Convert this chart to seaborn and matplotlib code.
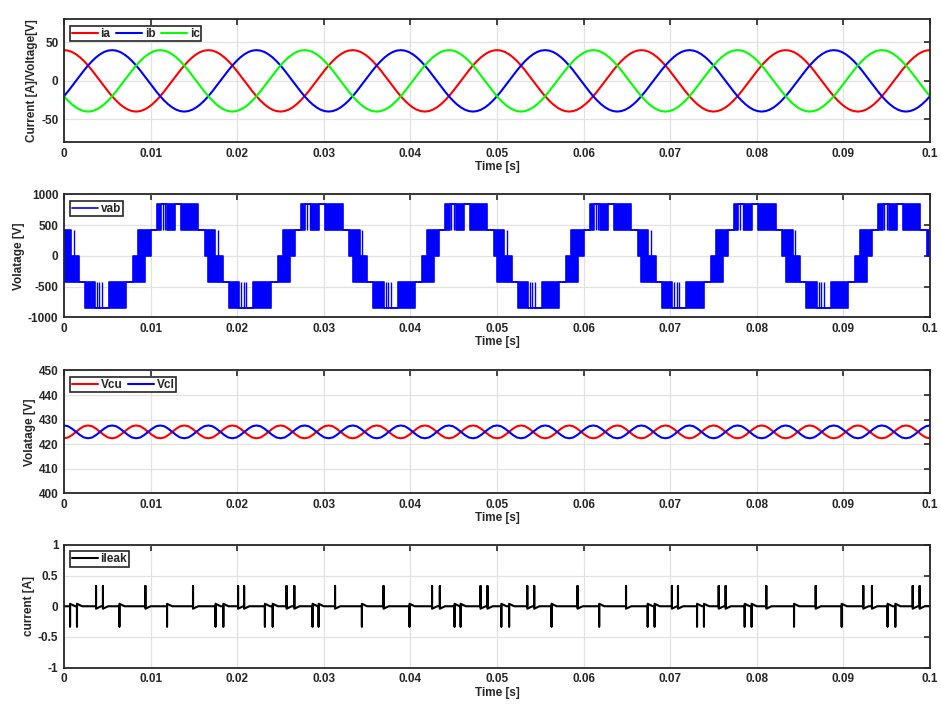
import seaborn as sns
import matplotlib.pyplot as plt
import numpy as np

# ---- data ----
period = 1 / 60          # grid frequency, 60 Hz
n_cycles = 6             # 0 .. 0.1 s
n_per_cycle = 36         # samples per grid cycle

# phase current ia over one cycle (A), starts at the positive peak
ia_cycle = [40.0, 39.4, 37.6, 34.6, 30.6, 25.7, 20.0, 13.7, 6.9, 0.0, -6.9, -13.7,
            -20.0, -25.7, -30.6, -34.6, -37.6, -39.4, -40.0, -39.4, -37.6, -34.6, -30.6, -25.7,
            -20.0, -13.7, -6.9, 0.0, 6.9, 13.7, 20.0, 25.7, 30.6, 34.6, 37.6, 39.4]
# ib lags ia by a third of a cycle, ic by two thirds
ib_shift = 12
ic_shift = 24

# capacitor voltages, one 180 Hz ripple cycle (12 samples, same time step)
vcu_cycle = [422.4, 422.7, 423.7, 425.0, 426.3, 427.3, 427.6, 427.3, 426.3, 425.0, 423.7, 422.7]
vcl_cycle = [427.6, 427.3, 426.3, 425.0, 423.7, 422.7, 422.4, 422.7, 423.7, 425.0, 426.3, 427.3]

# vab: one grid cycle as switching bands (start times in s, band low / high level in V)
vab_edges = [0.0000, 0.0008, 0.0017, 0.0024, 0.0036, 0.0045, 0.0052, 0.0072, 0.0080, 0.0086,
             0.0094, 0.0100, 0.0107, 0.0112, 0.0119, 0.0128, 0.0135, 0.0155, 0.0163]
vab_lo = [-425, -425, -425, -850, -850, -850, -850, -425, -425, -425,
          0, 425, 425, 850, 425, 850, 425, 425, 0]
vab_hi = [425, 0, -425, -425, -850, -850, -425, -425, 0, 425,
          425, 425, 850, 850, 850, 850, 850, 425, 425]
# isolated switching pulses inside the flat parts of a cycle
vab_pulse_t = [0.0011, 0.0038, 0.0041, 0.0044, 0.0114, 0.0117]
vab_pulse_lo = [-425, -850, -850, -850, 425, 425]
vab_pulse_hi = [425, -425, -425, -425, 850, 850]

# leakage current spikes (s)
ileak_pos = [0.0037, 0.0045, 0.0094, 0.0149, 0.0201, 0.0208, 0.0257, 0.0266, 0.0313, 0.0369,
             0.0425, 0.0434, 0.0481, 0.0489, 0.0535, 0.0543, 0.0593, 0.0649, 0.0702, 0.0709,
             0.0756, 0.0764, 0.0811, 0.0868, 0.0923, 0.0933, 0.0980, 0.0988]
ileak_neg = [0.0007, 0.0015, 0.0064, 0.0119, 0.0175, 0.0184, 0.0232, 0.0241, 0.0287, 0.0294,
             0.0344, 0.0399, 0.0451, 0.0458, 0.0505, 0.0514, 0.0563, 0.0618, 0.0674, 0.0682,
             0.0731, 0.0739, 0.0786, 0.0794, 0.0843, 0.0898, 0.0951, 0.0960]
ileak_peak = 0.33
ileak_step = 0.04
ileak_tail = 0.0006

x_ticks = [0, 0.01, 0.02, 0.03, 0.04, 0.05, 0.06, 0.07, 0.08, 0.09, 0.1]
x_labels = ['0', '0.01', '0.02', '0.03', '0.04', '0.05', '0.06', '0.07', '0.08', '0.09', '0.1']

# ---- build series ----
n = n_cycles * n_per_cycle + 1
t = np.arange(n) * period / n_per_cycle
ia = np.tile(ia_cycle, n_cycles + 1)[:n]
ib = np.tile(np.roll(ia_cycle, ib_shift), n_cycles + 1)[:n]
ic = np.tile(np.roll(ia_cycle, ic_shift), n_cycles + 1)[:n]
vcu = np.tile(vcu_cycle, 3 * n_cycles + 1)[:n]
vcl = np.tile(vcl_cycle, 3 * n_cycles + 1)[:n]

edges = np.concatenate([np.array(vab_edges) + k * period for k in range(n_cycles)] + [[0.1]])
lo = np.tile(vab_lo, n_cycles)
hi = np.tile(vab_hi, n_cycles)
lo = np.append(lo, lo[-1])
hi = np.append(hi, hi[-1])
pulse_t = np.concatenate([np.array(vab_pulse_t) + k * period for k in range(n_cycles)])
pulse_lo = np.tile(vab_pulse_lo, n_cycles)
pulse_hi = np.tile(vab_pulse_hi, n_cycles)

spikes = sorted([(s, 1) for s in ileak_pos] + [(s, -1) for s in ileak_neg])
lt, ly = [0.0], [0.0]
for s, g in spikes:
    lt += [s, s, s, s + ileak_tail]
    ly += [0.0, g * ileak_peak, -g * ileak_step, 0.0]
lt.append(0.1)
ly.append(0.0)

# ---- style ----
sns.set_style('whitegrid')
plt.rcParams['font.family'] = ['Liberation Sans', 'DejaVu Sans']
plt.rcParams['font.weight'] = 'bold'
plt.rcParams['axes.labelweight'] = 'bold'
dark = '#262626'

fig = plt.figure(figsize=(9.41, 7.04), dpi=100)
bottoms = [0.7979, 0.5493, 0.2993, 0.0516]
axes = [fig.add_axes([0.068, b, 0.9203, 0.1745]) for b in bottoms]
ax1, ax2, ax3, ax4 = axes

lw = 1.5
sns.lineplot(x=t, y=ia, color='#ff0000', lw=lw, label='ia', ax=ax1)
sns.lineplot(x=t, y=ib, color='#0000ff', lw=lw, label='ib', ax=ax1)
sns.lineplot(x=t, y=ic, color='#00ff00', lw=lw, label='ic', ax=ax1)

ax2.fill_between(edges, lo, hi, step='post', color='#0000ff', lw=0)
ax2.plot(edges, lo, drawstyle='steps-post', color='#0000ff', lw=1.2)
ax2.plot(edges, hi, drawstyle='steps-post', color='#0000ff', lw=1.2, label='vab')
ax2.vlines(pulse_t, pulse_lo, pulse_hi, color='#0000ff', lw=1.0)

sns.lineplot(x=t, y=vcu, color='#ff0000', lw=lw, label='Vcu', ax=ax3)
sns.lineplot(x=t, y=vcl, color='#0000ff', lw=lw, label='Vcl', ax=ax3)

sns.lineplot(x=lt, y=ly, color='black', lw=lw, label='ileak', ax=ax4,
             estimator=None, sort=False)

ylims = [(-80, 80), (-1000, 1000), (400, 450), (-1, 1)]
yticks = [[-50, 0, 50], [-1000, -500, 0, 500, 1000], [400, 410, 420, 430, 440, 450],
          [-1, -0.5, 0, 0.5, 1]]
ytlabels = [['-50', '0', '50'], ['-1000', '-500', '0', '500', '1000'],
            ['400', '410', '420', '430', '440', '450'], ['-1', '-0.5', '0', '0.5', '1']]
ylabels = ['Current [A]/Voltage[V]', 'Volatage [V]', 'Volatage [V]', 'current [A]']
ncols = [3, 1, 2, 1]

for ax, yl, yt, ytl, lab, nc in zip(axes, ylims, yticks, ytlabels, ylabels, ncols):
    ax.set_xlim(0, 0.1)
    ax.set_ylim(*yl)
    ax.set_xticks(x_ticks)
    ax.set_xticklabels(x_labels)
    ax.set_yticks(yt)
    ax.set_yticklabels(ytl)
    ax.grid(True, color='#e2e2e2', lw=0.9)
    ax.set_axisbelow(True)
    for sp in ax.spines.values():
        sp.set_color(dark)
        sp.set_linewidth(1.3)
    ax.tick_params(direction='in', top=True, right=True, length=4, width=1.2,
                   colors=dark, labelsize=8.5, pad=4)
    for lbl in ax.get_xticklabels() + ax.get_yticklabels():
        lbl.set_fontweight('bold')
    ax.set_xlabel('Time [s]', fontsize=8.5, color=dark, labelpad=1)
    ax.set_ylabel(lab, fontsize=8.5, color=dark, labelpad=2)
    leg = ax.legend(loc='upper left', ncol=nc, fontsize=8.5, frameon=True, fancybox=False,
                    edgecolor=dark, framealpha=1, borderaxespad=0.55, borderpad=0.15,
                    handlelength=2.2, handletextpad=0.2, columnspacing=0.5)
    leg.get_frame().set_linewidth(1.2)
    for txt in leg.get_texts():
        txt.set_fontweight('bold')
        txt.set_color(dark)

fig.savefig('out.png', dpi=100)
